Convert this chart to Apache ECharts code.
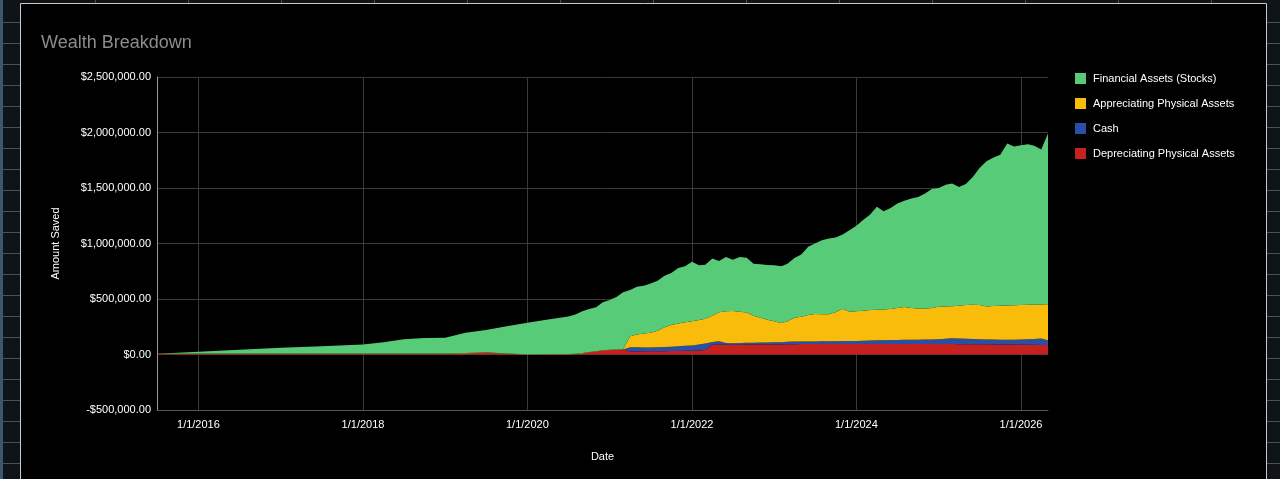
<!DOCTYPE html>
<html>
<head>
<meta charset="utf-8">
<title>Wealth Breakdown</title>
<script src="https://cdn.jsdelivr.net/npm/echarts@6.0.0/dist/echarts.min.js"></script>
<style>
  html, body { margin: 0; padding: 0; background: #0f1419; }
  #chart { width: 1280px; height: 479px; }
</style>
</head>
<body>
<div id="chart"></div>
<script>
// month of each reading
const dates = [
    '2015-07-01', '2016-01-01', '2016-07-01', '2017-01-01', '2017-07-01', '2018-01-01',
    '2018-04-01', '2018-07-01', '2018-10-01', '2019-01-01', '2019-04-01', '2019-07-01',
    '2019-10-01', '2020-01-01', '2020-04-01', '2020-07-01', '2020-08-01', '2020-09-01',
    '2020-10-01', '2020-11-01', '2020-12-01', '2021-01-01', '2021-02-01', '2021-03-01',
    '2021-04-01', '2021-05-01', '2021-06-01', '2021-07-01', '2021-08-01', '2021-09-01',
    '2021-10-01', '2021-11-01', '2021-12-01', '2022-01-01', '2022-02-01', '2022-03-01',
    '2022-04-01', '2022-05-01', '2022-06-01', '2022-07-01', '2022-08-01', '2022-09-01',
    '2022-10-01', '2022-11-01', '2022-12-01', '2023-01-01', '2023-02-01', '2023-03-01',
    '2023-04-01', '2023-05-01', '2023-06-01', '2023-07-01', '2023-08-01', '2023-09-01',
    '2023-10-01', '2023-11-01', '2023-12-01', '2024-01-01', '2024-02-01', '2024-03-01',
    '2024-04-01', '2024-05-01', '2024-06-01', '2024-07-01', '2024-08-01', '2024-09-01',
    '2024-10-01', '2024-11-01', '2024-12-01', '2025-01-01', '2025-02-01', '2025-03-01',
    '2025-04-01', '2025-05-01', '2025-06-01', '2025-07-01', '2025-08-01', '2025-09-01',
    '2025-10-01', '2025-11-01', '2025-12-01', '2026-01-01', '2026-02-01', '2026-03-01',
    '2026-04-01', '2026-05-01'
];

const depreciating = [
    5e3, 6e3, 6e3, 6e3, 6e3, 6e3,
    6e3, 6e3, 6e3, 6e3, 10e3, 18e3,
    6e3, 1e3, 2e3, 3e3, 5e3, 10e3,
    20e3, 27e3, 35e3, 40e3, 42e3, 45e3,
    27e3, 28e3, 28e3, 29e3, 30e3, 30e3,
    31e3, 32e3, 33e3, 34e3, 35e3, 40e3,
    90e3, 92e3, 88e3, 88e3, 88e3, 89e3,
    89e3, 90e3, 90e3, 90e3, 91e3, 92e3,
    93e3, 94e3, 95e3, 95e3, 95e3, 95e3,
    95e3, 95e3, 95e3, 95e3, 95e3, 95e3,
    95e3, 95e3, 95e3, 95e3, 95e3, 95e3,
    94e3, 94e3, 94e3, 94e3, 94e3, 94e3,
    93e3, 93e3, 93e3, 92e3, 92e3, 91e3,
    91e3, 90e3, 90e3, 89e3, 88e3, 87e3,
    86e3, 85e3
];

const cash = [
    0, 0, 0, 0, 0, 0,
    0, 0, 0, 0, 0, 0,
    0, 0, 0, 0, 0, 0,
    0, 0, 0, 0, 0, 0,
    39e3, 37e3, 35e3, 35e3, 36e3, 38e3,
    39e3, 42e3, 45e3, 48e3, 55e3, 60e3,
    22e3, 28e3, 15e3, 14e3, 16e3, 16e3,
    17e3, 17e3, 18e3, 20e3, 20e3, 22e3,
    23e3, 23e3, 23e3, 23e3, 24e3, 24e3,
    25e3, 26e3, 26e3, 27e3, 29e3, 31e3,
    33e3, 34e3, 35e3, 36e3, 37e3, 38e3,
    40e3, 41e3, 42e3, 44e3, 48e3, 53e3,
    52e3, 49e3, 47e3, 46e3, 44e3, 44e3,
    43e3, 43e3, 43e3, 46e3, 49e3, 53e3,
    58e3, 43e3
];

const appreciating = [
    2e3, 3e3, 3e3, 3e3, 3e3, 3e3,
    3e3, 3e3, 3e3, 3e3, 3e3, 3e3,
    2e3, 1e3, 2e3, 2e3, 2e3, 3e3,
    3e3, 3e3, 3e3, 3e3, 3e3, 3e3,
    99e3, 115e3, 127e3, 131e3, 149e3, 177e3,
    195e3, 206e3, 212e3, 218e3, 220e3, 222e3,
    238e3, 260e3, 287e3, 290e3, 281e3, 273e3,
    244e3, 223e3, 204e3, 190e3, 172e3, 186e3,
    214e3, 223e3, 237e3, 247e3, 243e3, 243e3,
    260e3, 291e3, 264e3, 268e3, 271e3, 274e3,
    275e3, 276e3, 280e3, 289e3, 295e3, 287e3,
    281e3, 277e3, 284e3, 292e3, 291e3, 288e3,
    295e3, 304e3, 308e3, 307e3, 297e3, 301e3,
    306e3, 309e3, 311e3, 311e3, 311e3, 310e3,
    307e3, 324e3
];

const financial = [
    0, 15e3, 33e3, 51e3, 66e3, 81e3,
    101e3, 129e3, 139e3, 143e3, 182e3, 199e3,
    247e3, 283e3, 311e3, 337e3, 353e3, 377e3,
    387e3, 395e3, 432e3, 447e3, 475e3, 512e3,
    415e3, 430e3, 430e3, 445e3, 450e3, 465e3,
    470e3, 500e3, 505e3, 535e3, 495e3, 487e3,
    514e3, 462e3, 488e3, 462e3, 493e3, 494e3,
    468e3, 482e3, 494e3, 503e3, 511e3, 518e3,
    540e3, 560e3, 615e3, 635e3, 668e3, 683e3,
    675e3, 668e3, 735e3, 770e3, 820e3, 860e3,
    927e3, 885e3, 910e3, 940e3, 958e3, 985e3,
    1005e3, 1038e3, 1070e3, 1070e3, 1097e3, 1105e3,
    1070e3, 1089e3, 1152e3, 1235e3, 1307e3, 1339e3,
    1360e3, 1458e3, 1431e3, 1439e3, 1447e3, 1430e3,
    1396e3, 1539e3
];

const tickDates = ['2016-01-01', '2018-01-01', '2020-01-01', '2022-01-01', '2024-01-01', '2026-01-01'];

const seriesNames = ['Depreciating Physical Assets', 'Cash', 'Appreciating Physical Assets', 'Financial Assets (Stocks)'];
const seriesColors = ['#c5221f', '#2a4fa6', '#f9bc0b', '#57cb78'];
const legendOrder = ['Financial Assets (Stocks)', 'Appreciating Physical Assets', 'Cash', 'Depreciating Physical Assets'];

function ts(d) {
    let p = d.split('-');
    return new Date(+p[0], +p[1] - 1, +p[2]).getTime();
}

function pairs(values) {
    return dates.map(function (d, i) { return [ts(d), values[i]]; });
}

function money(v) {
    let s = '$' + Math.abs(v).toLocaleString('en-US', { minimumFractionDigits: 2, maximumFractionDigits: 2 });
    return v < 0 ? '-' + s : s;
}

// spreadsheet frame around the chart
function frameGraphics() {
    let els = [
        { type: 'rect', z: -20, shape: { x: 0, y: 0, width: 3, height: 479 }, style: { fill: '#3b5670' } },
        { type: 'rect', z: -10, shape: { x: 20.5, y: 3.5, width: 1246, height: 490 },
          style: { fill: '#000', stroke: '#c9c9c9', lineWidth: 1 } }
    ];
    for (let y = 22; y < 479; y += 21) {
        els.push({ type: 'line', z: -20, shape: { x1: 3, y1: y + 0.5, x2: 20, y2: y + 0.5 },
                   style: { stroke: '#4a5159', lineWidth: 1 } });
        els.push({ type: 'line', z: -20, shape: { x1: 1267, y1: y + 0.5, x2: 1280, y2: y + 0.5 },
                   style: { stroke: '#4a5159', lineWidth: 1 } });
    }
    for (let x = 95; x < 1280; x += 93) {
        els.push({ type: 'line', z: -20, shape: { x1: x + 0.5, y1: 0, x2: x + 0.5, y2: 3 },
                   style: { stroke: '#4a5159', lineWidth: 1 } });
    }
    return els;
}

let myChart = echarts.init(document.getElementById('chart'), null, { renderer: 'canvas' });

const fontFamily = '"Liberation Sans", Arial, sans-serif';
let tickValues = tickDates.map(ts);
let xMin = ts('2015-07-01');
let xMax = ts('2026-05-01');

let option = {
    backgroundColor: '#0f1419',
    animation: false,
    textStyle: { fontFamily: fontFamily, fontSize: 11, color: '#ffffff' },
    graphic: { elements: frameGraphics() },
    title: {
        text: 'Wealth Breakdown',
        left: 36,
        top: 29,
        textStyle: { fontFamily: fontFamily, fontSize: 18, fontWeight: 'normal', color: '#8c8c8c' }
    },
    legend: {
        orient: 'vertical',
        left: 1070,
        top: 68,
        icon: 'rect',
        itemWidth: 11,
        itemHeight: 11,
        itemGap: 14,
        data: legendOrder,
        textStyle: { fontFamily: fontFamily, fontSize: 11, color: '#ffffff', padding: [0, 0, 0, 2] }
    },
    grid: {
        left: 157,
        right: 232,
        top: 77,
        bottom: 69
    },
    xAxis: [
        {
            // time axis that carries the series
            type: 'time',
            min: xMin,
            max: xMax,
            show: false
        },
        {
            // visible date axis with ticks every second January
            type: 'value',
            min: xMin,
            max: xMax,
            position: 'bottom',
            name: 'Date',
            nameLocation: 'middle',
            nameGap: 41,
            nameTextStyle: { fontFamily: fontFamily, fontSize: 11, color: '#ffffff' },
            axisLine: { onZero: false, lineStyle: { color: '#555555' } },
            axisTick: { show: false, customValues: tickValues },
            axisLabel: {
                customValues: tickValues,
                color: '#ffffff',
                fontSize: 11,
                margin: 9,
                formatter: function (val) { return '1/1/' + new Date(val).getFullYear(); }
            },
            splitLine: { show: true, lineStyle: { color: '#3a3a3a', width: 1 } }
        }
    ],
    yAxis: {
        type: 'value',
        min: -500000,
        max: 2500000,
        interval: 500000,
        name: 'Amount Saved',
        nameLocation: 'middle',
        nameGap: 96,
        nameTextStyle: { fontFamily: fontFamily, fontSize: 11, color: '#ffffff' },
        axisLine: { show: true, lineStyle: { color: '#9a9a9a' } },
        axisTick: { show: false },
        axisLabel: { color: '#ffffff', fontSize: 11, margin: 6, formatter: money },
        splitLine: { lineStyle: { color: '#3a3a3a', width: 1 } }
    },
    series: [depreciating, cash, appreciating, financial].map(function (vals, i) {
        return {
            name: seriesNames[i],
            type: 'line',
            xAxisIndex: 0,
            stack: 'wealth',
            data: pairs(vals),
            showSymbol: false,
            symbol: 'none',
            color: seriesColors[i],
            lineStyle: { width: 0 },
            areaStyle: { color: seriesColors[i], opacity: 1 }
        };
    })
};

myChart.setOption(option);
</script>
</body>
</html>
